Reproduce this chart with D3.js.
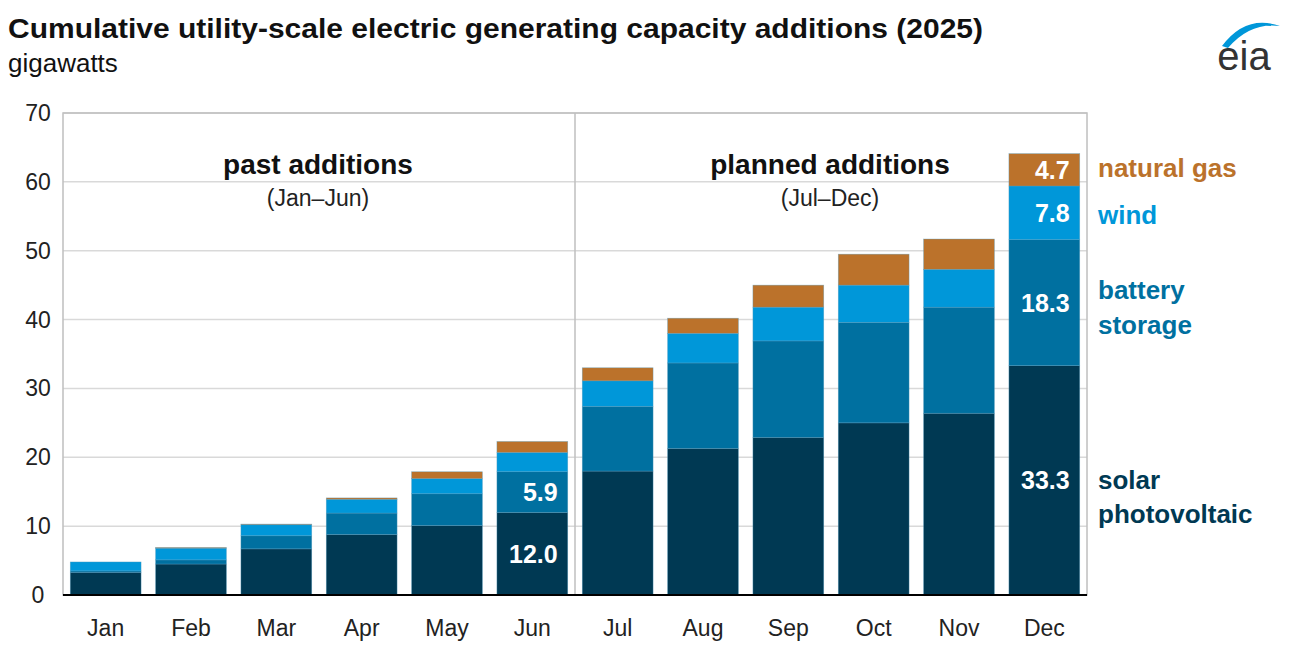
<!DOCTYPE html>
<html><head><meta charset="utf-8">
<script src="https://cdn.jsdelivr.net/npm/d3@7"></script>
<style>body{margin:0;background:#fff;font-family:"Liberation Sans",Arial,sans-serif;}</style>
</head><body><div id="viz"></div>
<script>
// Data (cumulative GW, by segment).
var months = ["Jan","Feb","Mar","Apr","May","Jun","Jul","Aug","Sep","Oct","Nov","Dec"];
var solar   = [3.3, 4.5, 6.7, 8.8, 10.1, 12.0, 18.0, 21.3, 22.9, 25.0, 26.4, 33.3];
var battery = [0.2, 0.6, 1.9, 3.1, 4.6, 5.9, 9.4, 12.4, 14.0, 14.6, 15.4, 18.3];
var wind    = [1.3, 1.7, 1.6, 2.0, 2.2, 2.8, 3.7, 4.3, 4.9, 5.4, 5.5, 7.8];
var gas     = [0.0, 0.1, 0.1, 0.2, 1.0, 1.6, 1.9, 2.2, 3.2, 4.5, 4.4, 4.7];
var yTicks  = [0,10,20,30,40,50,60,70];

var keys = ["solar","battery","wind","gas"];
var colors = {solar:"#003953", battery:"#0070a0", wind:"#0097d9", gas:"#bb722b"};
var rows = months.map(function(m,i){
	return {month:m, solar:solar[i], battery:battery[i], wind:wind[i], gas:gas[i]};
});

var svg = d3.select("#viz").append("svg").attr("width",1305).attr("height",663);
var pL = 63, pR = 1087, pT = 113, pB = 595;

var x = d3.scaleBand().domain(months).range([pL,pR]).paddingInner(0.17).paddingOuter(0.085);
var y = d3.scaleLinear().domain([0,70]).range([pB,pT]);

// Grid.
svg.append("g").selectAll("line").data(yTicks.slice(1)).join("line")
	.attr("x1",pL).attr("x2",pR).attr("y1",d=>y(d)).attr("y2",d=>y(d))
	.style("stroke","#d9d9d9").style("stroke-width",1.5);
svg.append("rect").attr("x",pL).attr("y",pT).attr("width",pR-pL).attr("height",pB-pT)
	.style("fill","none").style("stroke","#bfbfbf").style("stroke-width",1.5);
var mid = (x("Jun")+x.bandwidth()+x("Jul"))/2;
svg.append("line").attr("x1",mid).attr("x2",mid).attr("y1",pT).attr("y2",pB)
	.style("stroke","#bfbfbf").style("stroke-width",1.5);

// Bars.
var stack = d3.stack().keys(keys)(rows);
svg.append("g").selectAll("g").data(stack).join("g")
	.style("fill",d=>colors[d.key])
	.selectAll("rect").data(d=>d).join("rect")
	.attr("x",d=>x(d.data.month)).attr("width",x.bandwidth())
	.attr("y",d=>y(d[1])).attr("height",d=>y(d[0])-y(d[1]))
	.style("stroke","#5a9fc0").style("stroke-width",0.6).style("stroke-opacity",0.6);

// Value labels.
function lab(m,v,base){
	svg.append("text").attr("x",x(m)+x.bandwidth()-10).attr("y",y(base+v/2)+9)
		.attr("text-anchor","end").style("fill","#fff").style("font-size","25px").style("font-weight","bold")
		.text(v.toFixed(1));
}
lab("Jun",solar[5],0); lab("Jun",battery[5],solar[5]);
var b = 0;
[solar,battery,wind,gas].forEach(function(s){ lab("Dec",s[11],b); b += s[11]; });

// Axes.
svg.append("line").attr("x1",pL).attr("x2",pR).attr("y1",pB).attr("y2",pB)
	.style("stroke","#000").style("stroke-width",2);
svg.append("g").selectAll("text").data(yTicks).join("text")
	.attr("x",38).attr("y",d=>y(d)+8).attr("text-anchor","middle")
	.style("font-size","23px").style("fill","#222").text(d=>d);
svg.append("g").selectAll("text").data(months).join("text")
	.attr("x",d=>x(d)+x.bandwidth()/2).attr("y",636).attr("text-anchor","middle")
	.style("font-size","23px").style("fill","#222").text(d=>d);

// Section labels.
function section(cx,t1,t2){
	svg.append("text").attr("x",cx).attr("y",174).attr("text-anchor","middle")
		.style("font-size","28px").style("font-weight","bold").style("fill","#111").text(t1);
	svg.append("text").attr("x",cx).attr("y",206).attr("text-anchor","middle")
		.style("font-size","23px").style("fill","#222").text(t2);
}
section(318,"past additions","(Jan\u2013Jun)");
section(830,"planned additions","(Jul\u2013Dec)");

// Legend.
var leg = [["natural gas",177,colors.gas],["wind",224,colors.wind],["battery",299,colors.battery],
	["storage",334,colors.battery],["solar",489,colors.solar],["photovoltaic",523,colors.solar]];
svg.append("g").selectAll("text").data(leg).join("text")
	.attr("x",1098).attr("y",d=>d[1]).style("font-size","26px").style("font-weight","bold")
	.style("fill",d=>d[2]).text(d=>d[0]);

// Titles.
svg.append("text").attr("x",8).attr("y",38).attr("textLength",975).attr("lengthAdjust","spacingAndGlyphs")
	.style("font-size","27px").style("font-weight","bold")
	.style("fill","#111").text("Cumulative utility-scale electric generating capacity additions (2025)");
svg.append("text").attr("x",8).attr("y",72).style("font-size","26px").style("fill","#111").text("gigawatts");

// Logo.
svg.append("path").attr("d","M1222,46 Q1246,14 1280,26 Q1250,22 1228,48 Z").style("fill","#0097d9");
svg.append("text").attr("x",1244).attr("y",70).attr("text-anchor","middle")
	.style("font-size","40px").style("fill","#333").text("eia");
</script></body></html>
